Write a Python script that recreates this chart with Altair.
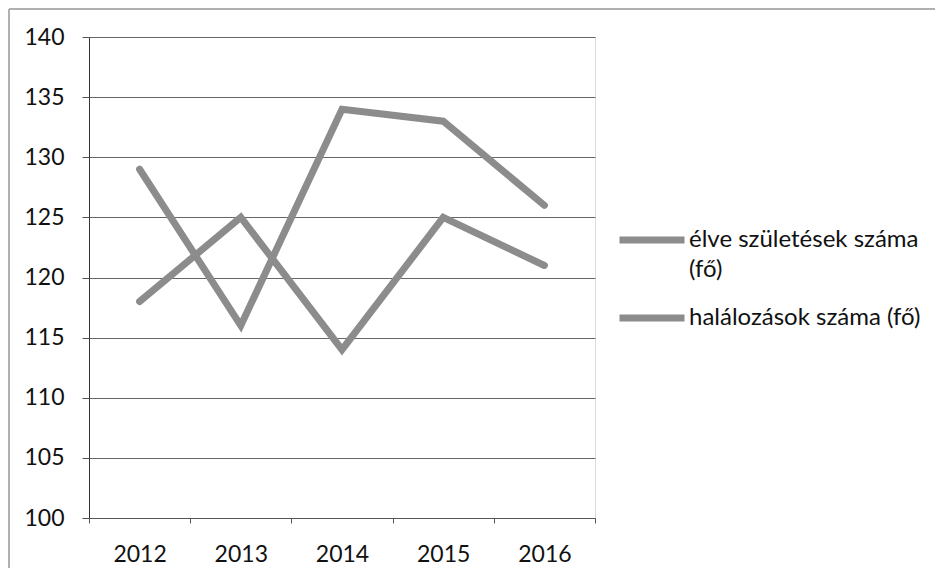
import altair as alt
import pandas as pd

years = ["2012", "2013", "2014", "2015", "2016"]
series_names = ["élve születések száma (fő)", "halálozások száma (fő)"]
births = [118, 125, 114, 125, 121]
deaths = [129, 116, 134, 133, 126]
y_ticks = [100, 105, 110, 115, 120, 125, 130, 135, 140]

rows = []
for name, vals in zip(series_names, [births, deaths]):
    for yr, v in zip(years, vals):
        rows.append({"év": yr, "sorozat": name, "érték": v})
df = pd.DataFrame(rows)

FONT = "Lato"
LINE_GRAY = "#8c8c8c"

lines = alt.Chart(df).mark_line(strokeWidth=7, strokeCap="round", strokeJoin="miter").encode(
    x=alt.X("év:O", sort=years,
            scale=alt.Scale(type="band", paddingInner=0, paddingOuter=0),
            axis=alt.Axis(title=None, labelAngle=0, tickBand="extent", grid=False,
                          domainColor="#555555", tickColor="#555555", tickSize=5,
                          labelPadding=20, labelFontSize=23, labelColor="#111111",
                          labelFont=FONT)),
    y=alt.Y("érték:Q", scale=alt.Scale(domain=[100, 140], nice=False, zero=False),
            axis=alt.Axis(title=None, values=y_ticks, grid=True, gridColor="#666666",
                          gridWidth=1, domainColor="#333333", tickColor="#555555",
                          tickSize=7, labelPadding=18, labelFontSize=23,
                          labelColor="#111111", labelFont=FONT)),
    color=alt.Color("sorozat:N", sort=series_names,
                    scale=alt.Scale(domain=series_names, range=[LINE_GRAY, LINE_GRAY]),
                    legend=alt.Legend(
                        title=None, orient="none", legendX=527, legendY=167,
                        symbolType="stroke", symbolSize=4225, symbolStrokeWidth=7,
                        symbolStrokeColor=LINE_GRAY,
                        labelFont=FONT, labelFontSize=24, labelColor="#111111",
                        labelOffset=1, rowPadding=0, labelBaseline="middle",
                        labelExpr="datum.label == 'élve születések száma (fő)' ? ['élve születések száma', '(fő)'] : datum.label",
                        labelLimit=400)),
)

frame_df = pd.DataFrame({"k": [0]})
frame = alt.Chart(frame_df).mark_rule(color="#b0b0b0", strokeWidth=2).encode(
    x=alt.value(-80), y=alt.value(-28), y2=alt.value(560)
)
frame_top = alt.Chart(frame_df).mark_rule(color="#b0b0b0", strokeWidth=2).encode(
    x=alt.value(-80), x2=alt.value(846), y=alt.value(-28)
)

chart = alt.layer(lines, frame, frame_top).properties(
    width=506, height=481,
    autosize=alt.AutoSizeParams(type="none"),
    padding={"left": 81, "top": 29, "right": 341, "bottom": 50},
).configure_view(stroke=None).configure(
    background="white",
    style={"guide-label": {"lineHeight": 30}},
)

chart.save("out.html", embed_options={"renderer": "svg", "actions": False})
